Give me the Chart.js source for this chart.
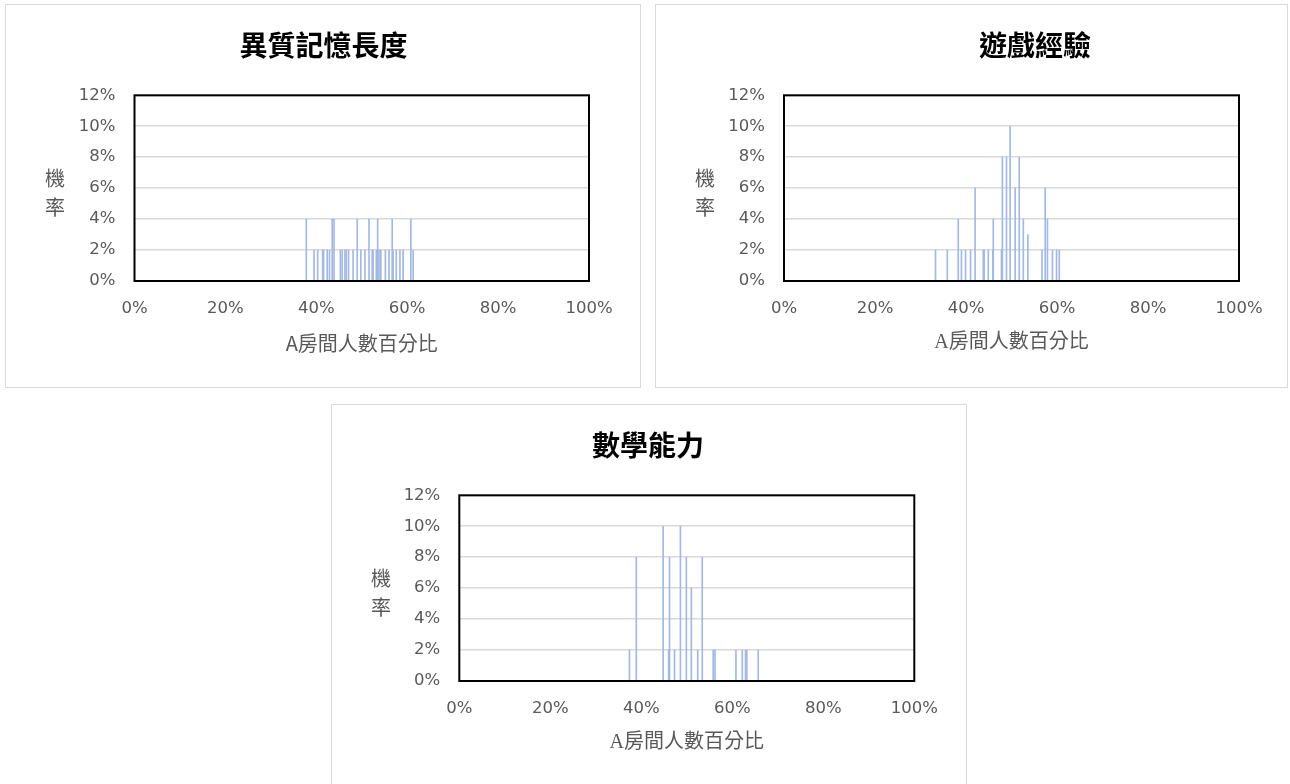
<!DOCTYPE html>
<html><head><meta charset="utf-8">
<script src="https://cdn.jsdelivr.net/npm/chart.js@4.4.1/dist/chart.umd.min.js"></script>
<style>
html,body{margin:0;padding:0;background:#fff;width:1290px;height:784px;overflow:hidden;}
.card{position:absolute;border:1px solid #d9d9d9;background:#fff;}
.card canvas{display:block;}
</style></head><body>
<div class="card" style="left:5px;top:4px;width:634px;height:382px"><canvas id="c1" width="634" height="382"></canvas></div>
<div class="card" style="left:655px;top:4px;width:631px;height:382px"><canvas id="c2" width="631" height="382"></canvas></div>
<div class="card" style="left:331px;top:404px;width:634px;height:382px"><canvas id="c3" width="634" height="382"></canvas></div>
<script>
// ---- data (x = A房間人數百分比 %, y = 機率 %) ----
const memoryX = [37.8, 39.5, 40.3, 41.4, 41.6, 42.4, 42.9, 43.5, 43.9, 45.3, 45.7, 46.3, 46.6, 47.1, 48.1, 49.0, 49.8, 50.7, 51.6, 52.3, 52.5, 53.2, 53.5, 53.8, 54.2, 55.2, 56.0, 56.7, 56.9, 57.6, 58.4, 59.1, 60.8, 61.3];
const memoryY = [4, 2, 2, 2, 2, 2, 2, 4, 4, 2, 2, 2, 2, 2, 2, 4, 2, 2, 4, 2, 2, 2, 4, 2, 2, 2, 2, 4, 2, 2, 2, 2, 4, 2];

const gameX = [33.3, 35.9, 38.3, 39.0, 39.9, 41.0, 42.0, 43.8, 44.0, 44.9, 45.9, 46.0, 47.8, 48.0, 48.9, 49.7, 50.8, 51.7, 52.6, 53.6, 56.7, 57.4, 57.9, 59.0, 59.9, 60.5];
const gameY = [2, 2, 4, 2, 2, 2, 6, 2, 2, 2, 2, 4, 2, 8, 8, 10, 6, 8, 4, 3, 2, 6, 4, 2, 2, 2];

const mathX = [37.4, 38.9, 44.8, 46.0, 46.2, 47.3, 48.6, 49.9, 51.0, 52.4, 53.4, 55.8, 56.2, 60.8, 62.2, 62.9, 63.2, 65.7];
const mathY = [2, 8, 10, 2, 8, 2, 10, 8, 6, 2, 8, 2, 2, 2, 2, 2, 2, 2];

const chartTitles = ['異質記憶長度', '遊戲經驗', '數學能力'];
const xAxisTitle = 'A房間人數百分比';
const yAxisTitle = ['機', '率'];
const xTickStep = 20;
const yTickStep = 2;

const BAR = '#a3b9e3';
const TXT = '#595959';

const panelText = {
  id: 'panelText',
  afterDraw(chart, args, o) {
    const ctx = chart.ctx;
    ctx.save();
    ctx.textAlign = 'center';
    ctx.textBaseline = 'middle';
    ctx.fillStyle = '#000';
    ctx.font = 'bold 28px "Noto Sans CJK TC"';
    ctx.fillText(o.title, o.titleX, o.titleY);
    ctx.fillStyle = TXT;
    ctx.font = '20px "Noto Sans CJK TC"';
    o.yText.forEach((ch, i) => ctx.fillText(ch, o.yX, o.yY[i]));
    ctx.restore();
  }
};
const frame = {
  id: 'frame',
  afterDatasetsDraw(chart) {
    const a = chart.chartArea, ctx = chart.ctx;
    ctx.save();
    ctx.strokeStyle = '#000';
    ctx.lineWidth = 2;
    ctx.strokeRect(a.left, a.top, a.right - a.left, a.bottom - a.top);
    ctx.restore();
  }
};

function makeChart(id, xs, ys, title, L) {
  const points = xs.map((x, i) => ({x: x, y: ys[i]}));
  return new Chart(document.getElementById(id), {
    type: 'bar',
    data: {datasets: [{data: points, backgroundColor: BAR, borderWidth: 0, barThickness: 1, grouped: false}]},
    options: {
      responsive: false, animation: false, devicePixelRatio: 1,
      layout: {padding: {left: 0, top: L.top, right: L.right, bottom: 0}},
      plugins: {
        legend: {display: false}, tooltip: {enabled: false}, title: {display: false},
        panelText: {title: title, titleX: L.titleX, titleY: L.titleY + 1, yText: yAxisTitle, yX: 49, yY: [173, 202]}
      },
      scales: {
        x: {
          type: 'linear', min: 0, max: 100, offset: false,
          grid: {display: false, offset: false, drawTicks: false}, border: {display: false},
          ticks: {stepSize: xTickStep, padding: 18, color: TXT, maxRotation: 0,
                  font: {family: 'DejaVu Sans', size: 16.5}, callback: v => v + '%'},
          title: {display: true, text: xAxisTitle, color: TXT,
                  font: {family: L.xTitleFamily, size: 20}, padding: {top: 0, bottom: 32}},
          afterFit(s) { s.height = 106; }
        },
        y: {
          min: 0, max: 12,
          grid: {color: '#d9d9d9', lineWidth: 1.5, drawTicks: false}, border: {display: false},
          ticks: {stepSize: yTickStep, padding: 19, color: TXT,
                  font: {family: 'DejaVu Sans', size: 16.5}, callback: v => v + '%'},
          afterFit(s) { s.width = L.yWidth; }
        }
      }
    },
    plugins: [panelText, frame]
  });
}

makeChart('c1', memoryX, memoryY, chartTitles[0],
  {top: 90.3, right: 51, yWidth: 128.5, titleX: 317.5, titleY: 39.5, xTitleFamily: '"Noto Sans CJK TC"'});
makeChart('c2', gameX, gameY, chartTitles[1],
  {top: 90.3, right: 48, yWidth: 128, titleX: 379, titleY: 39.5, xTitleFamily: '"Liberation Serif", "Noto Sans CJK TC"'});
makeChart('c3', mathX, mathY, chartTitles[2],
  {top: 90.3, right: 51.7, yWidth: 127.3, titleX: 316, titleY: 39.5, xTitleFamily: '"Liberation Serif", "Noto Sans CJK TC"'});
</script>
</body></html>
